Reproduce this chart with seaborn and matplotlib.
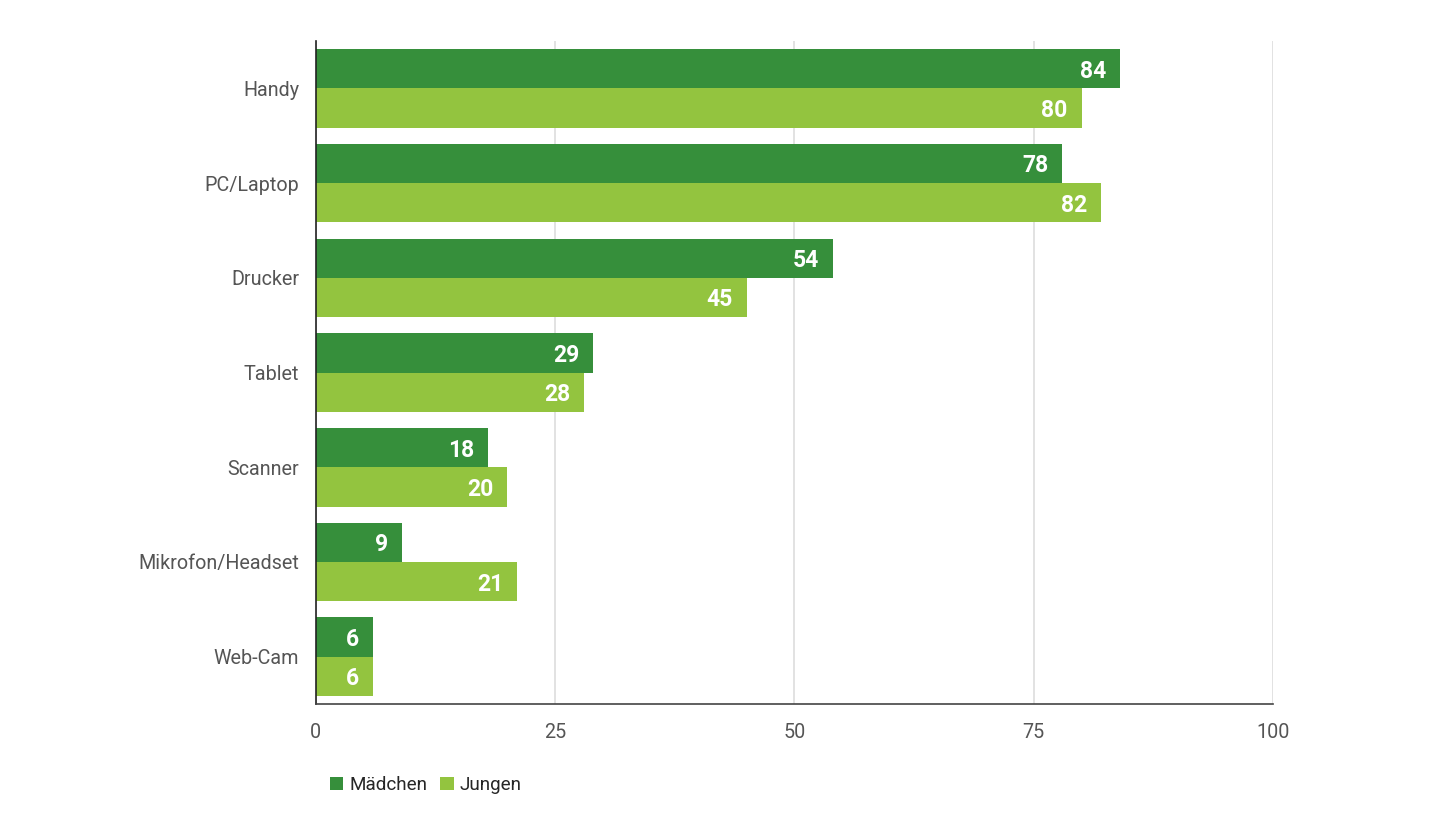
import numpy as np
import pandas as pd
import matplotlib
matplotlib.use("Agg")
import matplotlib.pyplot as plt
import seaborn as sns

categories = ["Handy", "PC/Laptop", "Drucker", "Tablet", "Scanner", "Mikrofon/Headset", "Web-Cam"]
maedchen = [84, 78, 54, 29, 18, 9, 6]
jungen = [80, 82, 45, 28, 20, 21, 6]
series = ["Mädchen", "Jungen"]
colors = ["#368f3b", "#93c43f"]
xticks = [0, 25, 50, 75, 100]

df = pd.DataFrame({
    "Gerät": categories * 2,
    "Wert": maedchen + jungen,
    "Gruppe": [series[0]] * len(categories) + [series[1]] * len(categories),
})

sns.set_theme(style="white")
plt.rcParams["font.family"] = ["Roboto", "DejaVu Sans"]

fig = plt.figure(figsize=(14.4, 8.32), dpi=100)
ax = fig.add_axes([0.2194, 0.1538, 0.6646, 0.7969])

sns.barplot(data=df, y="Gerät", x="Wert", hue="Gruppe", order=categories,
            hue_order=series, palette=colors, width=0.83, orient="h",
            linewidth=0, saturation=1, ax=ax)

for cont in ax.containers:
    texts = ax.bar_label(cont, fmt="%d", padding=-10, color="white",
                         fontsize=16.5, fontweight="bold")
    for t in texts:
        t.set_ha("right")
        t.set_va("center_baseline")

ax.set_xlim(0, 100)
ax.set_ylim(6.5, -0.5)
ax.set_xticks(xticks)
ax.set_xticklabels([str(v) for v in xticks])
ax.xaxis.grid(True, color="#dddddd", linewidth=1.2)
ax.set_axisbelow(True)
ax.set_xlabel("")
ax.set_ylabel("")
ax.tick_params(axis="both", length=0, labelsize=14.2, labelcolor="#555555")
ax.tick_params(axis="y", pad=12)
ax.tick_params(axis="x", pad=14)

for s in ["top", "right"]:
    ax.spines[s].set_visible(False)
ax.spines["left"].set_color("#222222")
ax.spines["bottom"].set_color("#444444")
ax.spines["left"].set_linewidth(1.2)
ax.spines["bottom"].set_linewidth(1.2)

ax.legend(handles=ax.get_legend_handles_labels()[0], labels=series,
          loc="upper left", bbox_to_anchor=(0.007, -0.097), ncol=2, frameon=False,
          fontsize=13.6, handlelength=0.7, handleheight=0.7, handletextpad=0.3,
          columnspacing=0.7, borderaxespad=0)

fig.savefig("out.png", dpi=100)
